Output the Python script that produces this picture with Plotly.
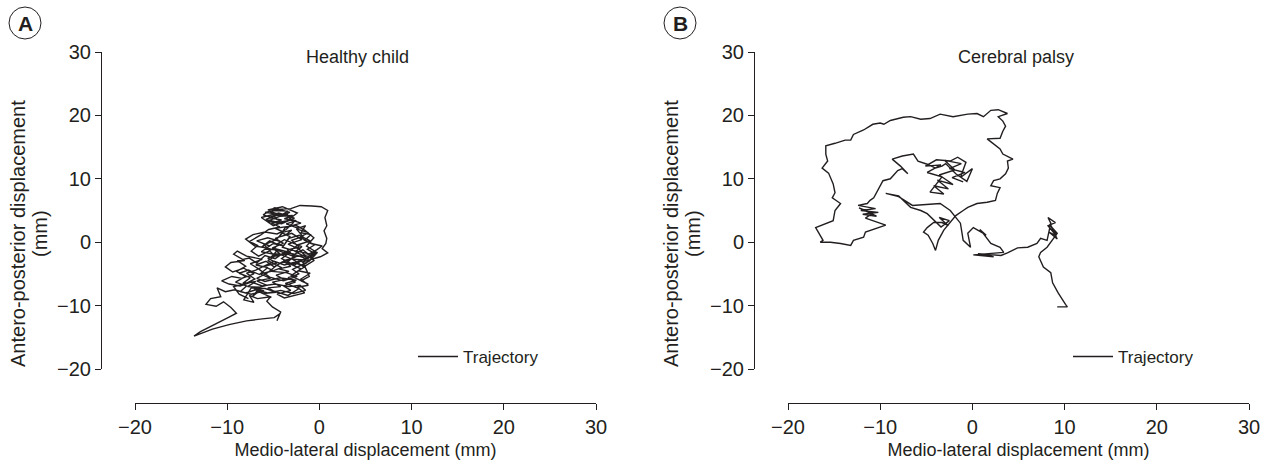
import plotly.graph_objects as go

W, H = 1271, 475

# ---------------- data (mm) ----------------
ml_healthy = [-3.9,-5.4,-4.6,-6.1,-4.9,-3.2,-5.7,-4.1,-2.7,-4.4,-6.3,-5.0,-3.5,-2.4,-4.0,-5.6,-3.1,-2.1,
 -0.8,0.2,0.9,0.6,0.8,0.5,0.8,0.7,0.3,0.9,0.1,-1.8,-1.4,-1.1,-2.0,-1.2,
 -3.1,-2.0,-3.5,-2.6,-1.2,-2.2,-3.4,-1.9,-3.0,-4.4,-3.7,-2.6,-1.6,-0.6,-1.4,-0.4,-2.7,-4.1,-3.2,-4.9,-4.2,-5.6,-6.8,-5.4,-6.3,-4.6,-5.6,-4.1,-5.2,-3.6,-2.4,-3.9,-5.4,-6.6,-7.5,-6.2,-7.9,-8.9,-9.3,-8.1,-9.6,-10.2,-9.4,-8.2,-7.1,-8.4,-9.5,-10.6,-9.8,-8.6,-7.4,-6.2,-4.8,-3.3,-2.1,-1.5,-2.8,-4.2,-5.6,-6.9,-8.0,-9.2,-10.2,-11.1,-10.7,-11.8,-12.3,-11.2,-10.4,-9.6,-9.0,-9.8,-10.6,-11.8,-12.9,-13.6,-13.1,-11.6,-9.8,-7.9,-6.2,-4.9,-4.3,-4.6,-4.2,-5.1,-5.7,-5.3,-6.7,-7.6,-7.1,-8.2,-7.4,-5.9,-4.5,-3.4,-2.2,-3.7,-2.5,-4.3,-5.9,-6.8,-5.7,-4.4,-3.0,-1.7,-0.6,-1.2,-2.9,-4.0,-3.3,-2.2,-1.0,-2.3,-3.6,-5.1,-6.0,-4.7,-3.9,-4.8,-3.3,-2.0,-3.0,-4.5,-5.8,-4.7,-3.5,-2.8,-3.6,-4.6,-5.9,-7.2,-8.0,-7.0,-5.8,-4.3,-2.7,-1.3,-0.3,0.3,-0.9,-2.1,
 -1.2,-2.5,-1.8,-3.0,-2.2,-3.5,-2.6,-3.9,-3.1,-4.4,-3.3,-4.7,-3.8,-5.1,-4.2,-5.6,-4.7,-6.1,-5.2,-6.6,-7.3,-6.4,-7.8,-6.9,-8.3,-7.5,-8.7,-7.7,-6.5,-5.6,-6.9,-5.8,-4.9,-4.0,-3.0,-2.1,-1.5,-0.8,-1.7,-2.6,-1.9,-2.9,-3.8,-4.6,-5.4,-6.2,-5.3,-6.6,-7.4,-6.7,-7.6,
 -6.4,-5.5,-4.3,-5.2,-4.1,-5.5,-4.4,-5.9,-4.8,-3.4,-4.3,-2.9,-3.8,-2.5,-3.6,-2.3,-1.5,-2.0,-0.9,-1.6,-0.5,-1.3,-0.4,-1.6,-2.9,-4.1,-5.2,-4.5,-5.9,-5.0,-3.9,-3.2,-4.1,-3.0,-3.6,
 -4.8,-3.9,-5.1,-4.3,-5.6,-4.6,-6.0,-5.0,-6.4,-5.3,-6.8,-5.7,-7.1,-6.0,-7.4,-8.6,-7.9,-9.1,-8.0,-9.0,-8.0,-8.9,-7.6,-6.8,-5.9,-4.8,-3.8,-2.7,-1.8,-1.0,-0.2,-1.1,-2.0,-2.9,-2.2,-3.4,-2.6,-3.9,-3.1,-4.6,-3.8,-2.5,-1.6,-2.4,-1.2,-2.0,-1.0,-2.3,-1.5,-2.8,-3.8,-4.9,-5.8,-6.9,-7.9,-7.0,-8.1,-9.3,-8.7,-7.7]
ap_healthy = [4.1,4.9,3.6,4.3,5.4,4.7,3.3,2.9,3.8,4.6,3.9,2.6,3.4,4.6,5.6,5.1,5.3,5.8,
 5.7,5.6,5.0,3.9,2.6,1.8,0.6,-0.2,-1.0,-1.7,-2.3,-3.1,-4.4,-5.4,-6.1,-6.6,
 -5.3,-4.2,-3.2,-2.0,-2.7,-1.1,-0.3,0.4,1.4,0.8,2.3,2.7,1.9,0.7,-0.6,-1.5,-3.6,-2.6,-1.6,-1.0,0.1,0.7,0.2,-0.6,-1.5,-2.0,-2.9,-4.0,-4.6,-4.8,-5.4,-6.1,-5.5,-4.2,-3.4,-2.7,-2.2,-1.4,-1.9,-2.9,-3.2,-3.9,-4.7,-4.1,-5.0,-5.7,-5.4,-6.1,-6.6,-6.9,-6.3,-6.9,-6.6,-7.0,-6.8,-7.6,-8.1,-7.6,-8.0,-7.5,-8.0,-7.5,-7.8,-7.2,-8.6,-8.9,-9.8,-10.1,-9.4,-10.3,-11.2,-11.8,-12.4,-13.2,-14.1,-14.8,-14.5,-13.7,-13.0,-12.4,-12.1,-11.9,-11.3,-12.4,-11.0,-10.2,-9.3,-8.6,-8.9,-8.4,-9.5,-9.1,-7.2,-7.3,-7.9,-8.4,-7.3,-6.5,-6.0,-5.6,-6.2,-5.7,-4.9,-3.4,-2.6,-3.9,-2.9,-1.8,-1.3,-0.8,0.6,1.1,0.2,-0.4,-1.9,-1.8,-0.4,0.4,1.6,2.2,2.5,3.0,3.5,3.1,3.6,4.2,4.4,3.1,2.0,1.3,1.6,1.2,0.5,-0.6,-0.9,-1.4,-2.3,-2.0,-1.2,-0.6,-0.2,0.8,
 1.5,2.1,0.9,0.3,-0.8,-1.2,-2.4,-2.9,-3.8,-4.2,-4.6,-5.2,-5.9,-6.3,-7.0,-7.2,-7.9,-8.1,-8.7,-7.8,-8.6,-7.1,-7.0,-6.2,-6.5,-5.6,-4.9,-4.4,-5.1,-4.0,-3.6,-3.0,-3.9,-3.1,-3.5,-2.9,-3.4,-2.5,-2.2,-1.5,-0.7,-0.1,0.4,-0.3,0.2,-0.7,-1.3,-2.2,-1.4,-0.5,0.1,
 1.1,2.0,2.4,3.0,3.5,3.9,4.4,4.7,5.0,4.9,4.1,4.2,3.7,3.4,2.9,2.2,2.6,1.5,1.2,0.3,-0.4,-1.1,-1.9,-2.8,-2.7,-2.0,-2.3,-1.2,-1.1,-0.2,-0.6,0.9,1.5,1.9,1.2,
 0.6,-0.2,-0.9,-1.8,-2.5,-3.3,-3.8,-4.5,-5.0,-5.7,-6.1,-6.8,-7.3,-7.7,-8.2,-7.8,-6.9,-6.3,-5.4,-4.6,-3.8,-2.9,-2.5,-3.3,-2.1,-2.6,-1.6,-1.9,-1.2,-2.1,-1.6,-3.0,-3.7,-4.3,-5.0,-5.6,-6.3,-6.9,-7.6,-8.2,-8.8,-8.3,-8.0,-7.1,-6.8,-5.8,-4.9,-4.5,-3.8,-3.2,-3.6,-3.0,-3.6,-4.4,-4.9,-5.8,-6.6,-7.0,-8.2,-8.9]

ml_cp = [-1.0,-2.2,-0.8,-2.5,-1.2,-3.0,-1.9,-3.6,-2.1,-3.8,-2.6,-4.2,-3.1,-4.6,-3.3,-4.9,-3.4,-5.1,-3.9,-2.4,-1.6,-0.7,-1.3,0.0,-0.6,-1.8,-2.9,-3.3,
 -4.0,-4.9,-5.9,-6.4,-7.6,-8.7,-7.8,-7.0,-7.6,-8.1,-8.9,-9.7,-10.3,-10.7,-11.1,-11.4,-12.4,-10.5,-12.1,-10.2,-11.9,-10.4,-12.3,-10.8,-11.6,-9.4,-11.6,-11.8,-12.9,-13.2,-14.3,-15.4,-16.5,-16.2,-17.0,-15.1,-14.9,-14.3,-15.2,-14.9,-15.1,-15.6,-16.3,-15.7,-15.9,-15.9,
 -14.9,-13.8,-13.2,-12.9,-11.8,-10.8,-10.0,-9.6,-8.9,-7.5,-6.7,-5.6,-4.6,-3.5,-2.1,-0.5,0.5,1.2,2.0,2.8,3.8,2.8,3.3,3.6,3.3,3.0,1.6,2.3,3.0,3.3,4.4,3.8,3.9,3.6,3.0,2.3,2.0,3.0,2.7,2.5,1.6,0.5,-0.5,-1.0,
 -1.8,-3.1,-3.7,-4.0,-4.3,-4.8,-5.3,-4.9,-4.2,-3.3,-2.6,-3.6,-2.5,-3.4,-4.9,-5.6,-6.7,-8.0,-9.4,-8.0,-6.5,-3.5,-2.4,-1.3,-1.0,-0.2,-0.5,0.1,1.2,0.8,1.5,1.0,2.0,3.0,3.4,2.3,0.1,2.3,0.6,3.1,3.8,4.9,6.0,7.0,7.4,8.1,8.5,8.2,9.0,8.2,9.1,8.3,9.2,8.4,9.1,8.7,9.2,8.1,7.4,7.2,7.7,8.5,8.7,9.3,10.1,10.3,9.2]
ap_cp = [9.5,10.2,11.0,11.6,12.4,12.9,11.4,10.6,9.1,9.8,8.4,8.9,7.6,7.9,10.3,11.0,12.2,12.0,13.0,12.8,13.4,12.6,10.2,11.6,9.6,10.8,12.4,12.0,
 11.7,12.3,12.8,13.9,13.6,13.1,12.0,10.8,11.6,11.3,10.0,9.7,8.1,7.0,6.6,6.1,5.8,5.3,5.0,4.7,4.4,4.1,5.4,4.6,3.8,2.7,1.6,0.8,0.3,-0.5,-0.2,0.0,0.0,0.3,2.3,3.4,5.0,6.1,7.0,7.8,9.2,10.9,11.7,12.8,13.9,15.2,
 15.6,16.1,16.1,17.0,17.7,18.6,18.8,18.6,19.2,19.7,19.8,19.4,19.5,20.2,19.8,20.2,20.3,19.8,20.8,20.9,20.3,19.8,19.1,18.3,17.5,16.4,16.3,15.5,14.7,13.9,13.1,12.8,11.7,10.8,10.0,9.7,8.9,8.6,7.7,6.6,6.3,6.1,5.5,5.0,
 4.2,1.9,0.3,-1.3,-0.2,1.1,1.6,2.3,3.1,3.1,2.6,3.9,3.4,2.4,4.5,5.0,5.5,7.3,7.7,7.2,5.8,6.1,5.0,3.0,0.3,-0.8,1.4,2.3,1.4,2.0,1.1,1.7,-0.2,-0.8,-1.6,-1.7,-2.0,-2.3,-1.8,-2.1,-1.7,-0.9,-0.8,-0.2,0.6,0.3,3.0,3.9,3.1,2.6,1.0,1.6,0.5,2.9,1.2,2.2,1.4,-0.8,-1.6,-2.3,-3.9,-4.8,-6.4,-8.0,-9.8,-10.2,-10.2]

tick_vals = [-20, -10, 0, 10, 20, 30]
tick_text = ["\u221220", "\u221210", "0", "10", "20", "30"]
panel_titles = ["Healthy child", "Cerebral palsy"]
panel_letters = ["A", "B"]
x_title = "Medio-lateral displacement (mm)"
y_title_lines = ["Antero-posterior displacement", "(mm)"]
legend_name = "Trajectory"

INK = "#231f20"
FONT = "Liberation Sans, Arial, Helvetica, sans-serif"

def px(x):
    return x / W

def py(y):
    return 1 - y / H

fig = go.Figure()
fig.add_trace(go.Scatter(x=ml_healthy, y=ap_healthy, mode="lines", name=legend_name,
                         line=dict(color=INK, width=1.4), xaxis="x", yaxis="y", legend="legend"))
fig.add_trace(go.Scatter(x=ml_cp, y=ap_cp, mode="lines", name=legend_name,
                         line=dict(color=INK, width=1.4), xaxis="x2", yaxis="y2", legend="legend2"))

# panel geometry (pixels)
panels = [
    dict(x0=135, x1=596, yaxis_x=101, y_top=52, y_bot=369, xaxis_y=403, title_x=357, letter_x=25, legend_x=413),
    dict(x0=788, x1=1249, yaxis_x=754, y_top=52, y_bot=369, xaxis_y=403, title_x=1016, letter_x=680, legend_x=1068),
]

axis_common = dict(range=[-20, 30], tickvals=tick_vals, ticktext=tick_text, ticks="outside",
                   ticklen=6, tickwidth=1, tickcolor=INK, showline=True, linecolor=INK, linewidth=1,
                   showgrid=False, zeroline=False, tickfont=dict(family=FONT, size=20, color=INK),
                   anchor="free", fixedrange=True, automargin=False)

layout = dict(width=W, height=H, margin=dict(l=0, r=0, t=0, b=0, autoexpand=False),
              paper_bgcolor="white", plot_bgcolor="white",
              font=dict(family=FONT, color=INK), shapes=[], annotations=[])

for i, p in enumerate(panels):
    sfx = "" if i == 0 else str(i + 1)
    layout["xaxis" + sfx] = dict(axis_common, domain=[px(p["x0"]), px(p["x1"])],
                                 position=py(p["xaxis_y"]),
                                 title=dict(text=x_title, font=dict(family=FONT, size=18, color=INK),
                                            standoff=6))
    layout["yaxis" + sfx] = dict(axis_common, domain=[py(p["y_bot"]), py(p["y_top"])],
                                 position=px(p["yaxis_x"]))
    # y title (two lines) as annotations
    for txt, off in zip(y_title_lines, [83, 61]):
        layout["annotations"].append(dict(text=txt, xref="paper", yref="paper",
                                          x=px(p["yaxis_x"] - off), y=py(234), textangle=-90,
                                          showarrow=False, xanchor="center", yanchor="middle",
                                          font=dict(family=FONT, size=20, color=INK)))
    # panel title
    layout["annotations"].append(dict(text=panel_titles[i], xref="paper", yref="paper",
                                      x=px(p["title_x"]), y=py(57), showarrow=False,
                                      xanchor="center", yanchor="middle",
                                      font=dict(family=FONT, size=18, color=INK)))
    # letter circle
    cx = p["letter_x"]
    cy = 23
    layout["shapes"].append(dict(type="circle", xref="paper", yref="paper",
                                 x0=px(cx - 16), x1=px(cx + 16), y0=py(cy + 16), y1=py(cy - 16),
                                 line=dict(color=INK, width=1)))
    layout["annotations"].append(dict(text="<b>%s</b>" % panel_letters[i], xref="paper", yref="paper",
                                      x=px(cx), y=py(cy + 1), showarrow=False, xanchor="center",
                                      yanchor="middle", font=dict(family=FONT, size=21, color=INK)))
    # legend
    lg = "legend" if i == 0 else "legend2"
    layout[lg] = dict(x=px(p["legend_x"]), y=py(357), xanchor="left", yanchor="middle",
                      bgcolor="rgba(0,0,0,0)", font=dict(family=FONT, size=17, color=INK),
                      itemwidth=40)

fig.update_layout(**layout)
fig.update_layout(showlegend=True)
fig.write_html("out.html", config={"displayModeBar": False},
               post_script="document.body.style.margin='0';document.body.style.padding='0';")
